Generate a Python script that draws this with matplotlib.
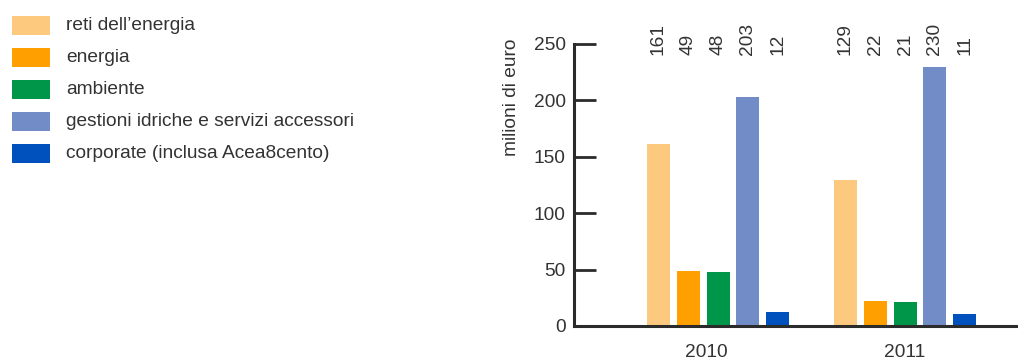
import matplotlib
matplotlib.use("Agg")
import matplotlib.pyplot as plt
from matplotlib.patches import Rectangle

years = ["2010", "2011"]
series = ["reti dell\u2019energia", "energia", "ambiente",
          "gestioni idriche e servizi accessori", "corporate (inclusa Acea8cento)"]
values = {
    "reti dell\u2019energia": [161, 129],
    "energia": [49, 22],
    "ambiente": [48, 21],
    "gestioni idriche e servizi accessori": [203, 230],
    "corporate (inclusa Acea8cento)": [12, 11],
}
colors = ["#FDC97E", "#FFA000", "#00964A", "#728CC8", "#0050BE"]
yticks = [0, 50, 100, 150, 200, 250]

plt.rcParams['font.family'] = ['Liberation Sans', 'DejaVu Sans']
txt = "#333333"
fs = 13.8
W, H = 1018, 360
fig = plt.figure(figsize=(W / 100, H / 100), dpi=100)
ax = fig.add_axes([574 / W, 1 - 326 / H, 1 - 574 / W, (326 - 44) / H])

bw = 0.123
step = 0.16
for i, s in enumerate(series):
    xs = [g + (i - 2) * step for g in range(len(years))]
    ax.bar(xs, values[s], width=bw, color=colors[i], linewidth=0)
    for x, v in zip(xs, values[s]):
        ax.text(x, 240, str(v), rotation=90, ha='center', va='bottom',
                fontsize=fs, color=txt, clip_on=False)

ax.set_ylim(0, 250)
ax.set_xlim(-0.77, 1.604)
ax.set_yticks(yticks)
ax.tick_params(axis='y', direction='in', length=16, width=2, color="#2b2b2b",
               labelsize=fs, labelcolor=txt, pad=6)
ax.set_xticks([-0.06, 1.0])
ax.set_xticklabels(years)
ax.tick_params(axis='x', length=0, labelsize=fs, labelcolor=txt, pad=13)
for sp in ['top', 'right']:
    ax.spines[sp].set_visible(False)
for sp in ['left', 'bottom']:
    ax.spines[sp].set_linewidth(2.2)
    ax.spines[sp].set_color("#2b2b2b")
ax.spines['left'].set_bounds(0, 250)

fig.text(512 / W, 1 - 97 / H, "milioni di euro", rotation=90, ha='center', va='center',
         fontsize=fs, color=txt)

# legend
for i, s in enumerate(series):
    y0 = 16 + 32 * i
    fig.patches.append(Rectangle((12 / W, 1 - (y0 + 19) / H), 38 / W, 19 / H,
                                 transform=fig.transFigure, color=colors[i], linewidth=0))
    fig.text(66 / W, 1 - (y0 + 9.5) / H, s, ha='left', va='center', fontsize=fs, color=txt)

fig.savefig("out.png", dpi=100)
